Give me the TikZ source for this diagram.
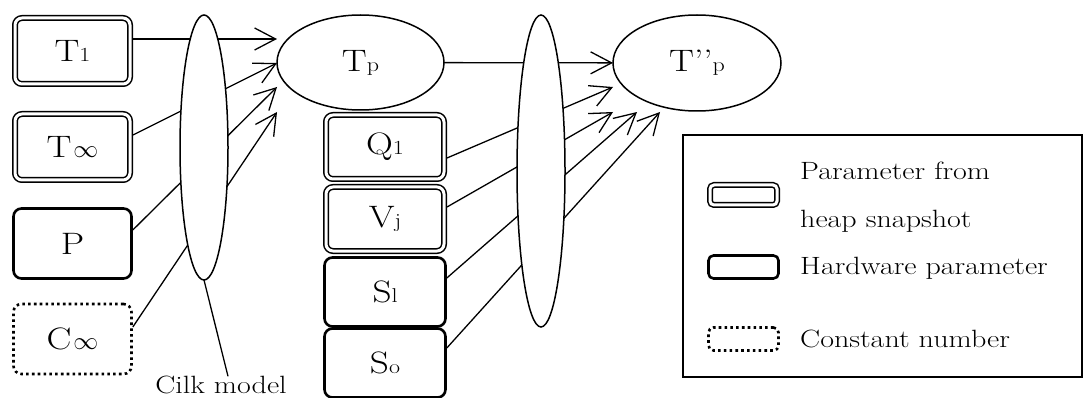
\documentclass[tikz,border=0pt]{standalone}
\usepackage{fontspec}
\setmainfont{Latin Modern Roman}[FakeStretch=1.2]
\usetikzlibrary{arrows.meta,shapes.geometric}
\newcommand{\lbl}[2]{{\fontsize{31}{33}\selectfont #1{\fontsize{20}{20}\selectfont #2}}}
\newcommand{\infsym}{\hspace{2pt}{\fontsize{25}{25}\selectfont$\infty$}}
\begin{document}
\begin{tikzpicture}[x=1pt,y=-1pt,
 dbox/.style={draw, line width=1.5pt, double=white, double distance=3pt, rounded corners=7pt, minimum width=115pt, minimum height=66pt, inner sep=0pt, outer sep=3pt},
 hbox/.style={draw, line width=2.6pt, rounded corners=8pt, minimum width=118pt, minimum height=70pt, inner sep=0pt, outer sep=1.3pt},
 cbox/.style={hbox, dash pattern=on 2.6pt off 3.2pt},
 oval/.style={draw, ellipse, line width=1.5pt, inner sep=0pt, outer sep=0pt, fill=white},
 conn/.style={line width=1.3pt, -{Straight Barb[length=21pt,width=22pt]}},
 plain/.style={line width=1.3pt},
 legtext/.style={anchor=base west, inner sep=0pt, font=\fontsize{25}{27}\selectfont}]
\useasboundingbox (0,0) rectangle (1084,398);
% left parameter boxes
\node[dbox] (T1) at (72.5,51) {\lbl{T}{1}};
\node[dbox] (Tinf) at (72.5,147) {{\fontsize{31}{33}\selectfont T\infsym}};
\node[hbox] (P) at (72.5,243.5) {\lbl{P}{}};
\node[cbox] (Cinf) at (72.5,339) {{\fontsize{31}{33}\selectfont C\infsym}};
% middle parameter boxes
\node[dbox, minimum width=118pt, minimum height=64pt] (Q1) at (385,147) {\lbl{Q}{1}};
\node[dbox, minimum width=118pt, minimum height=64pt] (Vj) at (385,219) {\lbl{V}{j}};
\node[hbox, minimum width=121pt, minimum height=69pt] (Sl) at (385,292) {\lbl{S}{l}};
\node[hbox, minimum width=121pt, minimum height=69pt] (So) at (385,363) {\lbl{S}{o}};
% result ellipses
\node[oval, minimum width=167pt, minimum height=95pt] (Tp) at (360.5,62.5) {\lbl{T}{p}};
\node[oval, minimum width=168pt, minimum height=96pt] (Tpp) at (697,63) {\lbl{T’’}{p}};
% arrow tips
\coordinate (a1) at (277,39);
\coordinate (a2) at (277,63);
\coordinate (a3) at (277,87);
\coordinate (a4) at (277,112);
\coordinate (b1) at (613,87);
\coordinate (b2) at (613,112);
\coordinate (b3) at (637,112);
\coordinate (b4) at (660,112);
% connectors
\draw[conn] ([yshift=12pt]T1.east) -- (a1);
\draw[conn] ([yshift=12pt]Tinf.east) -- (a2);
\draw[conn] ([yshift=13.5pt]P.east) -- (a3);
\draw[conn] ([yshift=12pt]Cinf.east) -- (a4);
\draw[conn] (Tp) -- (Tpp);
\draw[conn] ([yshift=-11pt]Q1.east) -- (b1);
\draw[conn] ([yshift=12pt]Vj.east) -- (b2);
\draw[conn] ([yshift=14pt]Sl.east) -- (b3);
\draw[conn] ([yshift=15pt]So.east) -- (b4);
% model ellipses
\node[oval, minimum width=48pt, minimum height=265pt] (E1) at (204,147.5) {};
\node[oval, minimum width=48pt, minimum height=312pt] (E2) at (541,171) {};
\node[anchor=base, inner sep=0pt, font=\fontsize{25}{27}\selectfont] (cilk) at (221,393) {Cilk model};
\draw[plain] (E1.south) -- ([xshift=7pt,yshift=-1pt]cilk.north);
% legend
\node[draw, line width=1.2pt, minimum width=399pt, minimum height=242pt, inner sep=0pt] (leg) at (882.5,256) {};
\node[dbox, minimum width=67pt, minimum height=20pt, rounded corners=4pt] (i1) at (743.5,195) {};
\node[hbox, minimum width=70pt, minimum height=23pt, rounded corners=5pt] (i2) at (743.5,267) {};
\node[cbox, minimum width=70pt, minimum height=23pt, rounded corners=5pt] (i3) at (743.5,339) {};
\node[legtext] (l1) at (800,180) {Parameter from};
\node[legtext] (l2) at (800,227) {heap snapshot};
\node[legtext] (l3) at (800,274) {Hardware parameter};
\node[legtext] (l4) at (800,347) {Constant number};
\end{tikzpicture}
\end{document}
